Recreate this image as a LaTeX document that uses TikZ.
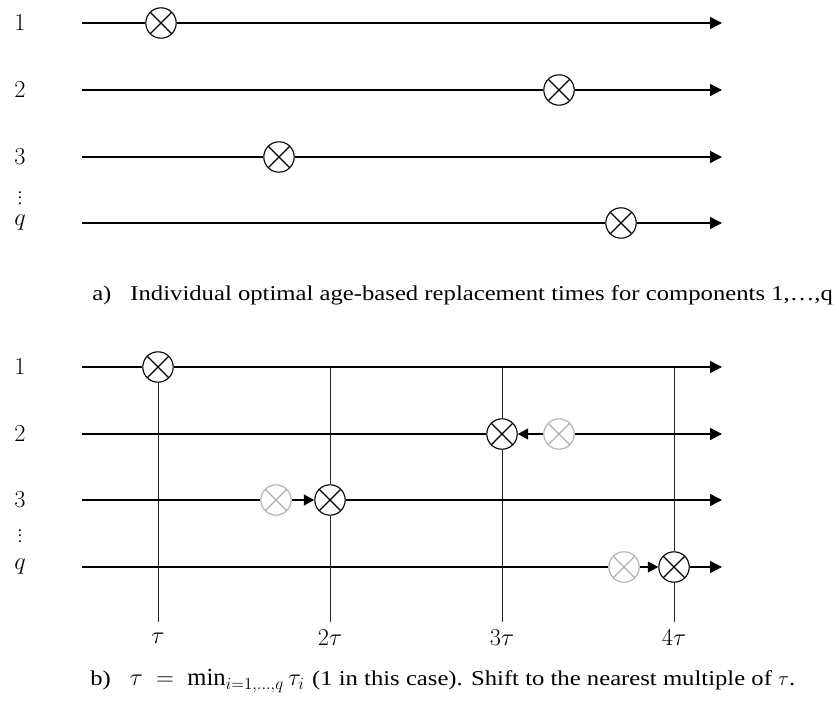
\documentclass[tikz,border=0pt]{standalone}
\usepackage{amsmath}
\usepackage{fontspec}
\setmainfont{Liberation Serif}
\newfontfamily\capfont[FakeStretch=1.17]{Liberation Serif}
\usetikzlibrary{arrows.meta,calc,positioning}
\definecolor{old}{RGB}{175,175,175}

\begin{document}
\begin{tikzpicture}[x=0.025cm,y=-0.025cm,
    lab/.style={inner sep=0pt,font=\fontsize{16.5}{18}\selectfont},
    dots/.style={inner sep=0pt,font=\fontsize{12}{14}\selectfont},
    captext/.style={anchor=west,inner sep=0pt,font=\fontsize{15}{18}\selectfont\capfont},
    rep/.style={circle,draw=#1,fill=white,line width=0.8pt,minimum size=0.76cm,inner sep=0pt,
      path picture={\draw[#1,line width=0.8pt]
        (path picture bounding box.north west) -- (path picture bounding box.south east)
        (path picture bounding box.north east) -- (path picture bounding box.south west);}},
    rep/.default=black,
    tl/.style={line width=1.1pt},
    tla/.style={tl,-{Triangle[length=0.3cm,width=0.3cm]}},
    movearrow/.style={tl,-{Triangle[length=0.26cm,width=0.27cm]}},
    tauline/.style={line width=0.7pt,black!85}]
    \useasboundingbox (0,0) rectangle (839,702);

    % a) individual times
    \foreach \r/\y/\x in {1/23/161, 2/90/559, 3/157/279, q/223/621} {
        \node[lab] (la\r) at (20,\y) {$\r$};
        \coordinate (a\r s) at (82,\y);
        \coordinate (a\r e) at (722,\y);
        \node[rep] (a\r) at (\x,\y) {};
        \draw[tl] (a\r s) -- (a\r);
        \draw[tla] (a\r) -- (a\r e);
    }
    \node[dots] (ladots) at (20,194) {$\vdots$};
    \node[captext] (capa) at (92,295) {a)\hspace{0.9em}Individual optimal age-based replacement times for components 1,…,q};

    % b) shifted to multiples of tau
    \foreach \r/\y in {1/367, 2/434, 3/500, q/567} {
        \node[lab] (lb\r) at (20,\y) {$\r$};
        \coordinate (b\r s) at (82,\y);
        \coordinate (b\r e) at (722,\y);
    }
    \node[dots] (lbdots) at (20,532) {$\vdots$};

    \node[rep] (b1) at (158,367) {};
    \node[rep] (b2) at (502,434) {};
    \node[rep=old] (b2o) at (559,434) {};
    \node[rep=old] (b3o) at (276,500) {};
    \node[rep] (b3) at (330,500) {};
    \node[rep=old] (bqo) at (624,567) {};
    \node[rep] (bq) at (674,567) {};

    \foreach \k/\x in {1/158, 2/330, 3/502, 4/674} {
        \coordinate (u\k) at (\x,367);
        \coordinate (t\k) at (\x,622);
    }
    \draw[tauline] (b1) -- (t1);
    \draw[tauline] (u2) -- (b3) (b3) -- (t2);
    \draw[tauline] (u3) -- (b2) (b2) -- (t3);
    \draw[tauline] (u4) -- (bq) (bq) -- (t4);

    \draw[tl] (b1s) -- (b1);
    \draw[tla] (b1) -- (b1e);
    \draw[tl] (b2s) -- (b2);
    \draw[movearrow] (b2o) -- (b2);
    \draw[tla] (b2o) -- (b2e);
    \draw[tl] (b3s) -- (b3o);
    \draw[movearrow] (b3o) -- (b3);
    \draw[tla] (b3) -- (b3e);
    \draw[tl] (bqs) -- (bqo);
    \draw[movearrow] (bqo) -- (bq);
    \draw[tla] (bq) -- (bqe);

    \node[lab] (l1) at (158,638) {$\tau$};
    \node[lab] (l2) at (330,638) {$2\tau$};
    \node[lab] (l3) at (502,638) {$3\tau$};
    \node[lab] (l4) at (674,638) {$4\tau$};

    \node[captext] (capb) at (90,681) {b)\hspace{0.9em}{\fontsize{17.5}{18}\selectfont$\tau\;=\;\min_{i=1,\dots,q}\tau_i$}\hspace{0.35em}(1 in this case). Shift to the nearest multiple of $\tau$.};
\end{tikzpicture}
\end{document}
